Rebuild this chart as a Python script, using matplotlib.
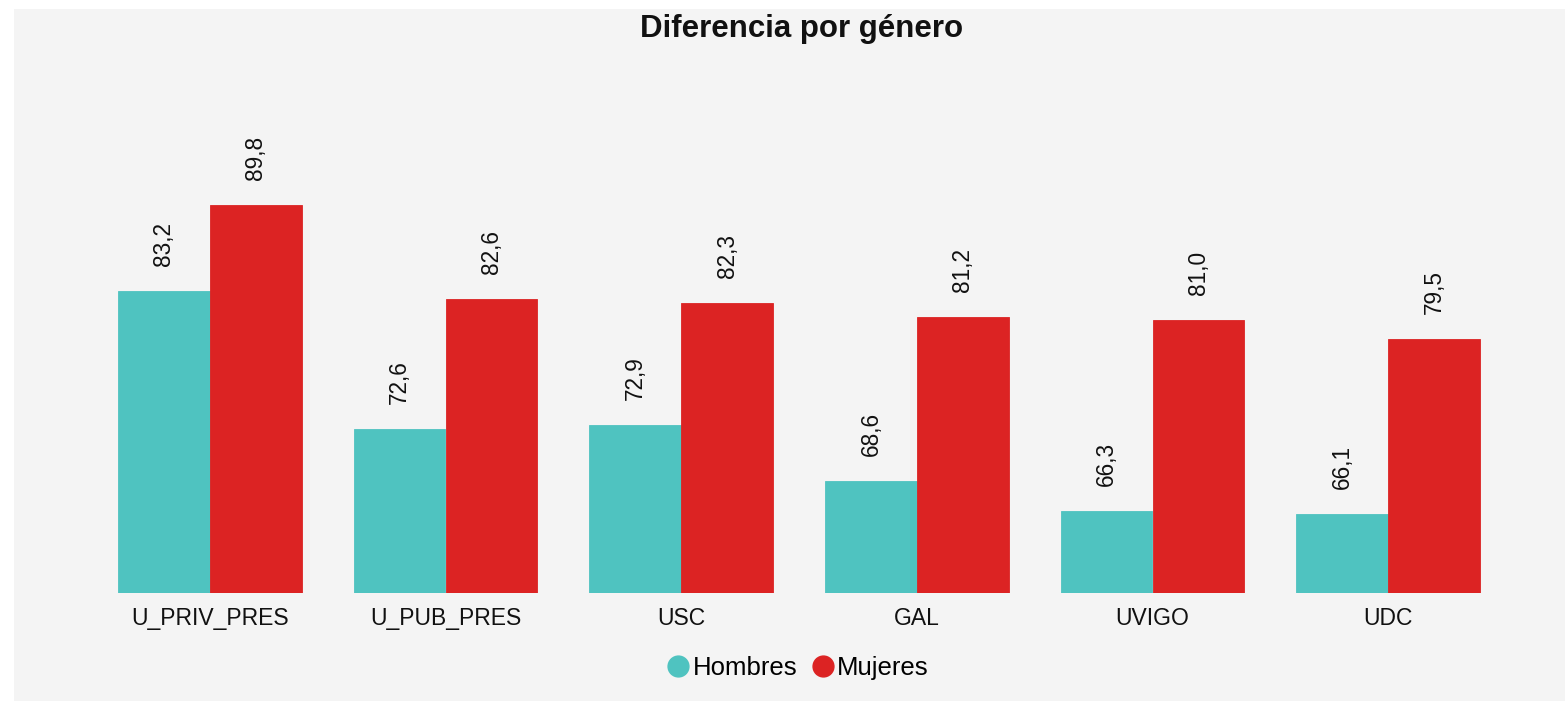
import numpy as np
import matplotlib.pyplot as plt
from matplotlib.lines import Line2D
from matplotlib.patches import Rectangle

plt.rcParams['font.family'] = ['Liberation Sans', 'DejaVu Sans']

# Datos
universidades = ["U_PRIV_PRES", "U_PUB_PRES", "USC", "GAL", "UVIGO", "UDC"]
hombres = [83.2, 72.6, 72.9, 68.6, 66.3, 66.1]
mujeres = [89.8, 82.6, 82.3, 81.2, 81.0, 79.5]

color_h = "#4fc3c0"
color_m = "#dc2323"
fondo = "#f4f4f4"

fig = plt.figure(figsize=(15.65, 7.01), dpi=100, facecolor="white")
# panel gris de fondo
fig.patches.append(Rectangle((14 / 1565, 0), 1 - 14 / 1565, 1 - 9 / 701,
                             transform=fig.transFigure, facecolor=fondo,
                             edgecolor="none", zorder=-10))

ax = fig.add_axes([92 / 1565, 1 - 593 / 701, (1506 - 92) / 1565, (593 - 50) / 701])
ax.set_facecolor("none")

x = np.arange(len(universidades))
w = 0.39
b1 = ax.bar(x - w / 2, hombres, w, color=color_h, edgecolor=color_h, linewidth=0.6)
b2 = ax.bar(x + w / 2, mujeres, w, color=color_m, edgecolor=color_m, linewidth=0.6)

for bars, vals in ((b1, hombres), (b2, mujeres)):
    for r, v in zip(bars, vals):
        ax.annotate(f"{v:.1f}".replace(".", ","),
                    (r.get_x() + r.get_width() / 2, v),
                    xytext=(0, 18), textcoords="offset points",
                    rotation=90, ha="center", va="bottom", fontsize=16.3,
                    color="#111111")

ax.set_xlim(-0.5, len(universidades) - 0.5)
ax.set_ylim(60, 101.7)
ax.set_xticks(x)
ax.set_xticklabels(universidades, fontsize=16.5, color="#111111")
ax.tick_params(axis="x", length=0, pad=10)
ax.set_yticks([])
for s in ax.spines.values():
    s.set_visible(False)

fig.text(802 / 1565, 1 - 29 / 701, "Diferencia por género", ha="center",
         va="center", fontsize=22.5, fontweight="bold", color="#111111")

handles = [Line2D([], [], marker="o", linestyle="none", markersize=15,
                  markerfacecolor=color_h, markeredgecolor=color_h),
           Line2D([], [], marker="o", linestyle="none", markersize=15,
                  markerfacecolor=color_m, markeredgecolor=color_m)]
fig.legend(handles, ["Hombres", "Mujeres"], loc="center",
           bbox_to_anchor=(797 / 1565, 1 - 668 / 701), ncol=2, frameon=False,
           fontsize=18.5, handletextpad=0.05, columnspacing=0.5, handlelength=1.0)

fig.savefig("out.png", dpi=100, facecolor="white")
